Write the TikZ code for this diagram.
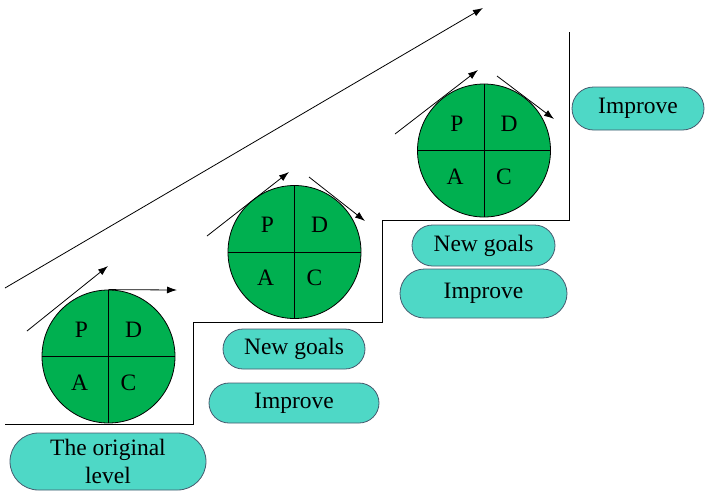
\documentclass[tikz,border=0pt]{standalone}
\usepackage{fontspec}
\setmainfont{Liberation Serif}[Ligatures=TeX]
\usetikzlibrary{arrows.meta,shapes.misc}
\definecolor{grass}{RGB}{0,176,80}
\definecolor{aqua}{RGB}{78,216,198}
\definecolor{slate}{RGB}{70,90,110}
\tikzset{
  >={Latex[length=10pt,width=7pt]},
  wheel/.style={circle,draw=black,fill=grass,line width=0.8pt,minimum size=133pt,inner sep=0pt},
  pill/.style={rounded rectangle,draw=slate,fill=aqua,line width=0.8pt,minimum width=#1,
    minimum height=40pt,inner sep=0pt,align=center,font=\rmfamily\fontsize{23.5}{28}\selectfont},
  quad/.style={inner sep=0pt,font=\rmfamily\fontsize{23.5}{28}\selectfont},
  flow/.style={->,line width=0.8pt},
}

\begin{document}
\begin{tikzpicture}[x=1pt,y=-1pt]
  \useasboundingbox (0,0) rectangle (705,496);
  % steps
  \draw[line width=0.8pt] (5,424) -- (193,424) -- (193,322) -- (382,322) -- (382,220) -- (569,220) -- (569,32);
  % long trend arrow
  \coordinate (t0) at (5,288);
  \coordinate (t1) at (483,8);
  \draw[flow] (t0) -- (t1);
  % PDCA wheels
  \foreach \n/\x/\y in {1/108.5/356.5, 2/294.5/252, 3/484/150.5} {
    \node[wheel] (c\n) at (\x,\y) {};
    \draw[line width=0.8pt] (c\n.north) -- (c\n.south) (c\n.west) -- (c\n.east);
    \node[quad] (p\n) at ([shift={(-27,-27)}]c\n.center) {P};
    \node[quad] (d\n) at ([shift={(25,-27)}]c\n.center) {D};
    \node[quad] (a\n) at ([shift={(-29,26)}]c\n.center) {A};
    \node[quad] (k\n) at ([shift={(20,26)}]c\n.center) {C};
  }
  % tangent arrows
  \coordinate (u1) at (27,331);   \coordinate (v1) at (108,266);
  \coordinate (w1) at (177,290);
  \draw[flow] (u1) -- (v1);
  \draw[flow] (c1.north) -- (w1);
  \coordinate (u2) at (207,236);  \coordinate (v2) at (289,172);
  \coordinate (s2) at (309,177);  \coordinate (w2) at (365,221);
  \draw[flow] (u2) -- (v2);
  \draw[flow] (s2) -- (w2);
  \coordinate (u3) at (395,134);  \coordinate (v3) at (478,70);
  \coordinate (s3) at (497,76);   \coordinate (w3) at (554,119);
  \draw[flow] (u3) -- (v3);
  \draw[flow] (s3) -- (w3);
  % labels
  \node[pill=196pt,minimum height=57pt] (orig) at (108,461.5) {The original\\level};
  \node[pill=142pt] (goals2) at (294,349) {New goals};
  \node[pill=170pt] (imp2) at (294,403) {Improve};
  \node[pill=143pt,minimum height=41pt] (goals3) at (483.5,245.5) {New goals};
  \node[pill=167pt,minimum height=49pt] (imp3) at (483.5,293.5) {Improve};
  \node[pill=132pt,minimum height=43pt] (imp4) at (638,108.5) {Improve};
\end{tikzpicture}
\end{document}
